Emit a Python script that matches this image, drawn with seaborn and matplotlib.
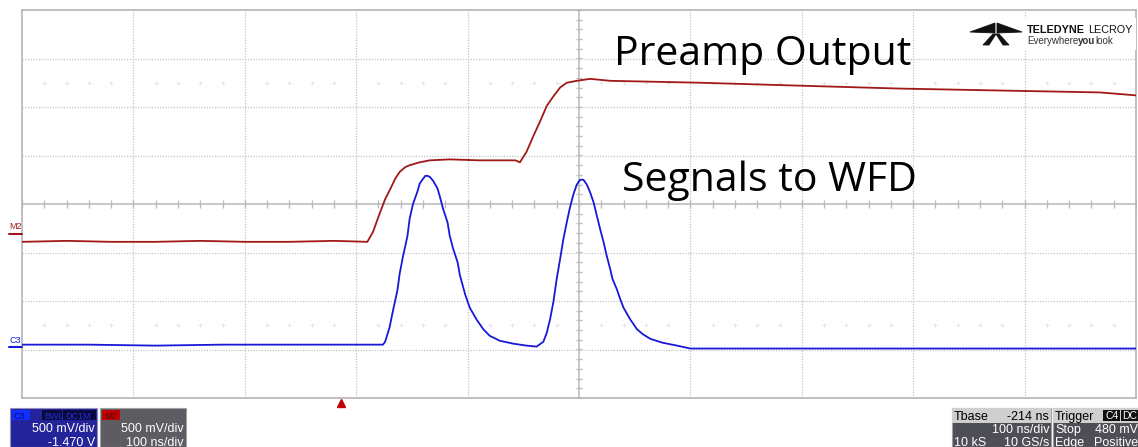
import numpy as np
import pandas as pd
import seaborn as sns
import matplotlib.pyplot as plt
from matplotlib.patches import Rectangle, Polygon
from matplotlib.transforms import ScaledTranslation

# ---- waveform samples (time in ns across the 10-division screen, amplitude in V) ----
preamp_t = [0, 40, 80, 120, 160, 200, 240, 280, 310, 315, 321, 326, 330, 335, 339, 344,
            348, 357, 366, 384, 411, 429, 443, 447, 453, 459, 465, 471, 477, 483, 489,
            498, 510, 528, 609, 698, 788, 878, 968, 1000]
preamp_v = [-0.39, -0.38, -0.39, -0.39, -0.38, -0.39, -0.39, -0.38, -0.39, -0.29, -0.10,
            0.05, 0.14, 0.26, 0.33, 0.38, 0.40, 0.43, 0.45, 0.46, 0.45, 0.45, 0.45, 0.43,
            0.54, 0.70, 0.85, 1.01, 1.11, 1.20, 1.25, 1.27, 1.29, 1.27, 1.25, 1.22, 1.19,
            1.17, 1.15, 1.12]

wfd_t = [0, 60, 120, 180, 240, 300, 324, 326, 330, 333, 337, 339, 342, 346, 348, 351, 355,
         357, 360, 362, 364, 366, 369, 373, 375, 378, 382, 384, 387, 391, 393, 398, 402,
         408, 414, 420, 429, 441, 453, 462, 468, 471, 474, 477, 480, 483, 486, 489, 492,
         495, 498, 501, 504, 507, 510, 513, 516, 519, 522, 525, 528, 530, 534, 537, 540,
         546, 552, 557, 564, 575, 588, 600, 700, 800, 900, 1000]
wfd_v = [-1.45, -1.45, -1.46, -1.45, -1.45, -1.45, -1.45, -1.42, -1.27, -1.10, -0.89,
         -0.72, -0.54, -0.33, -0.15, 0.00, 0.13, 0.21, 0.26, 0.29, 0.29, 0.28, 0.24, 0.16,
         0.08, -0.05, -0.19, -0.33, -0.46, -0.60, -0.73, -0.94, -1.07, -1.19, -1.29, -1.36,
         -1.41, -1.44, -1.46, -1.47, -1.42, -1.33, -1.19, -1.01, -0.77, -0.57, -0.36,
         -0.19, -0.03, 0.10, 0.20, 0.25, 0.25, 0.20, 0.12, 0.02, -0.12, -0.26, -0.39,
         -0.54, -0.67, -0.77, -0.88, -0.98, -1.07, -1.19, -1.29, -1.34, -1.39, -1.43,
         -1.46, -1.49, -1.49, -1.49, -1.49, -1.49]

tbase_ns = -214          # trigger offset from screen centre
ns_per_div = 100
v_per_div = 0.5

trace_names = ["M2", "C3"]
trace_colors = {"M2": "#a01818", "C3": "#1818d8"}

df = pd.concat([
    pd.DataFrame({"t": preamp_t, "v": preamp_v, "trace": "M2"}),
    pd.DataFrame({"t": wfd_t, "v": wfd_v, "trace": "C3"}),
], ignore_index=True)

W, H = 1138, 447
sns.set_theme(style="white")
plt.rcParams["font.family"] = ["Liberation Sans", "DejaVu Sans"]
fig = plt.figure(figsize=(W / 100, H / 100), dpi=100)
fig.patch.set_facecolor("white")


def fx(px):
    return px / W


def fy(py):
    return 1 - py / H


ax = fig.add_axes([fx(22), fy(398), fx(1136) - fx(22), fy(10) - fy(398)])
ax.set_xlim(0, 10 * ns_per_div)
ax.set_ylim(-4 * v_per_div, 4 * v_per_div)
ax.set_xticks([])
ax.set_yticks([])
for s in ax.spines.values():
    s.set_color("#b4b4b4")
    s.set_linewidth(1.2)

grid_kw = dict(color="#c4c4c4", lw=0.9, ls=(0, (1, 1.2)), zorder=0)
for k in range(1, 10):
    if k != 5:
        ax.axvline(k * ns_per_div, **grid_kw)
for k in range(-3, 4):
    if k != 0:
        ax.axhline(k * v_per_div, **grid_kw)

# centre cross with sub-division ticks
ax.axhline(0, color="#bdbdbd", lw=1.2, zorder=0)
ax.axvline(5 * ns_per_div, color="#bdbdbd", lw=1.2, zorder=0)
sub_t = np.arange(0, 1001, ns_per_div / 5)
ax.plot(sub_t, np.zeros_like(sub_t), ls="none", marker="|", ms=6, mew=1.0,
        color="#bdbdbd", zorder=0)
sub_v = np.arange(-2.0, 2.01, v_per_div / 5)
ax.plot(np.full_like(sub_v, 500), sub_v, ls="none", marker="_", ms=5, mew=1.0,
        color="#bdbdbd", zorder=0)

# faint marks at +/-2.5 divisions
mark_t = [t for t in sub_t if t % ns_per_div != 0]
for lvl in (2.5 * v_per_div, -2.5 * v_per_div):
    ax.plot(mark_t, [lvl] * len(mark_t), ls="none", marker="+", ms=3, mew=0.6,
            color="#e0e0e0", zorder=0)

sns.lineplot(data=df, x="t", y="v", hue="trace", hue_order=trace_names,
             palette=trace_colors, lw=1.3, legend=False, ax=ax, zorder=3,
             sort=False, estimator=None)
ax.set_xlabel("")
ax.set_ylabel("")

# channel labels on the left
fig.text(fx(9), fy(229), "M2", color=trace_colors["M2"], fontsize=6.5, ha="left",
         va="baseline")
fig.add_artist(plt.Line2D([fx(9), fx(22)], [fy(234), fy(234)], color=trace_colors["M2"],
                          lw=1.5))
fig.text(fx(9), fy(343), "C3", color=trace_colors["C3"], fontsize=6.5, ha="left",
         va="baseline")
fig.add_artist(plt.Line2D([fx(9), fx(22)], [fy(347), fy(347)], color=trace_colors["C3"],
                          lw=1.5))

# trigger position marker just below the grid
trig_t = 5 * ns_per_div + tbase_ns
trig, = ax.plot([trig_t], [-4 * v_per_div], marker="^", ms=6, color="#c00000",
                clip_on=False, zorder=5)
trig.set_transform(ax.transData + ScaledTranslation(0, -5 / 100, fig.dpi_scale_trans))

# annotations
ax.text(fx(614), fy(65), "Preamp Output", transform=fig.transFigure, fontsize=29.5,
        family="Open Sans", color="black", ha="left", va="baseline")
ax.text(fx(622), fy(191), "Segnals to WFD", transform=fig.transFigure, fontsize=29.5,
        family="Open Sans", color="black", ha="left", va="baseline")

# brand mark
logo = fig.add_axes([fx(966), fy(50), fx(1136) - fx(966), fy(18) - fy(50)])
logo.set_xlim(0, 170)
logo.set_ylim(32, 0)
logo.axis("off")
logo.add_patch(Rectangle((0, 0), 170, 32, facecolor="white", edgecolor="none"))
for pts in ([[4, 14], [29, 5], [29, 15]],
            [[56, 14], [31, 5], [31, 15]],
            [[27, 16], [30, 16], [23, 27], [17, 27]],
            [[30, 16], [33, 16], [43, 27], [37, 27]]):
    logo.add_patch(Polygon(pts, closed=True, facecolor="#111111", edgecolor="#111111",
                           lw=0.6))


def chain(parts, x, y, size, color, gap=0.0):
    # lay out text pieces one after another on a common baseline
    prev = None
    for s, weight in parts:
        if prev is None:
            prev = logo.text(x, y, s, fontsize=size, fontweight=weight, color=color,
                             va="baseline", family="Liberation Sans")
        else:
            prev = logo.annotate(s, xy=(1, 0), xycoords=prev, xytext=(gap, 0),
                                 textcoords="offset points", fontsize=size,
                                 fontweight=weight, color=color, va="bottom",
                                 family="Liberation Sans")
    return prev


chain([("TELEDYNE", "bold"), ("LECROY", "normal")], 61, 15, 7.8, "#111111", gap=2.5)
chain([("Everywhere", "normal"), ("you", "bold"), ("look", "normal")], 61, 26, 7,
      "#333333")


# status boxes along the bottom
def box(x0, x1, y0, y1, color, edge="none"):
    fig.add_artist(Rectangle((fx(x0), fy(y1)), fx(x1) - fx(x0), fy(y0) - fy(y1),
                             transform=fig.transFigure, facecolor=color,
                             edgecolor=edge, lw=0.8))


def label(x, y, s, color="white", ha="right", size=9, weight="normal"):
    fig.text(fx(x), fy(y), s, color=color, ha=ha, va="baseline", fontsize=size,
             fontweight=weight)


box(10, 97, 408, 447, "#23239a", edge="#9090c0")
box(12, 30, 410, 420, "#1030ff")
label(14, 419, "C3", color="#0a0a70", ha="left", size=6.5)
box(42, 62, 410, 420, "#0a0a40")
label(44, 419, "BWL", color="#2030d0", ha="left", size=6.5)
box(63, 96, 410, 420, "#0a0a40")
label(65, 419, "DC1M", color="#2030d0", ha="left", size=6.5)
label(95, 432, "500 mV/div")
label(95, 446, "-1.470 V")

box(100, 186, 408, 447, "#5c5c62", edge="#a0a0a0")
box(102, 120, 410, 420, "#c00000")
label(104, 419, "M2", color="#600000", ha="left", size=6.5)
label(184, 432, "500 mV/div")
label(184, 446, "100 ns/div")

box(952, 1051, 408, 447, "#4e4e56", edge="#a0a0a0")
box(952, 1051, 408, 423, "#cfcfcf")
label(954, 420, "Tbase", color="black", ha="left")
label(1049, 420, "-214 ns", color="black")
label(1049, 433, "100 ns/div")
label(954, 446, "10 kS", ha="left")
label(1049, 446, "10 GS/s")

box(1053, 1138, 408, 447, "#4e4e56", edge="#a0a0a0")
box(1053, 1138, 408, 423, "#cfcfcf")
label(1055, 420, "Trigger", color="black", ha="left")
box(1103, 1120, 410, 421, "#101010")
label(1105, 419, "C4", ha="left", size=7.5)
box(1121, 1138, 410, 421, "#101010")
label(1122, 419, "DC", ha="left", size=7.5)
label(1055, 433, "Stop", ha="left")
label(1138, 433, "480 mV")
label(1055, 446, "Edge", ha="left")
label(1138, 446, "Positive")

fig.savefig("out.png", dpi=100, facecolor="white")
